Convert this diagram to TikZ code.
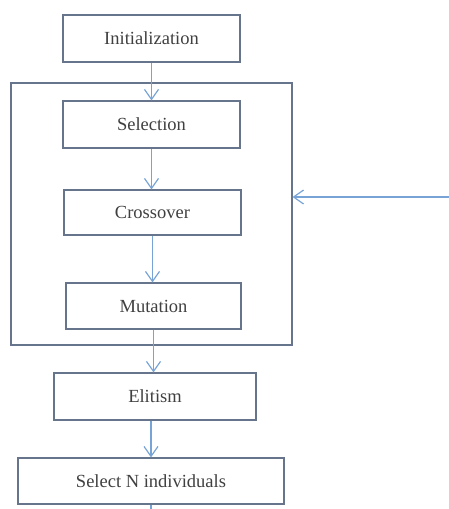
\documentclass[tikz,border=0pt]{standalone}
\usepackage{fontspec}
\setmainfont{Liberation Serif}
\usetikzlibrary{arrows.meta}
\definecolor{boxc}{HTML}{66758B}
\definecolor{arrc}{HTML}{77A3D6}
\definecolor{txtc}{HTML}{404040}
\begin{document}
\begin{tikzpicture}[x=1pt,y=-1pt,
  stepbox/.style={draw=boxc, line width=1.1pt, inner sep=0pt, text=txtc,
     font=\fontsize{18.5}{22}\selectfont},
  arr/.style={draw=arrc, line width=1.3pt, -{Straight Barb[length=10pt,width=14pt,line width=1.2pt]}},
  plainline/.style={draw=arrc, line width=1.3pt}]
\useasboundingbox (0,0) rectangle (449,509);
\node[stepbox, minimum width=177pt, minimum height=47pt] (init) at (151.5,38.5) {Initialization};
\node[stepbox, minimum width=281pt, minimum height=262pt] (loop) at (151.5,214) {};
\node[stepbox, minimum width=177pt, minimum height=47pt] (sel) at (151.5,124.5) {Selection};
\node[stepbox, minimum width=177pt, minimum height=45pt] (cross) at (152.5,212.5) {Crossover};
\node[stepbox, minimum width=175pt, minimum height=46pt] (mut) at (153.5,306) {Mutation};
\node[stepbox, minimum width=202pt, minimum height=47pt] (elit) at (155,396.5) {Elitism};
\node[stepbox, minimum width=266pt, minimum height=46pt] (seln) at (151,481) {Select N individuals};
\coordinate (fb) at (449,197);
\coordinate (tail) at (151,509);
\draw[arr] (init.south -| sel.north) -- (sel.north);
\draw[arr] (sel.south) -- (sel.south |- cross.north);
\draw[arr] (cross.south) -- (cross.south |- mut.north);
\draw[arr] (mut.south) -- (mut.south |- elit.north);
\draw[arr] (seln.north |- elit.south) -- (seln.north);
\draw[plainline] (seln.south) -- (tail);
\draw[arr] (fb) -- (fb -| loop.east);
\end{tikzpicture}
\end{document}
